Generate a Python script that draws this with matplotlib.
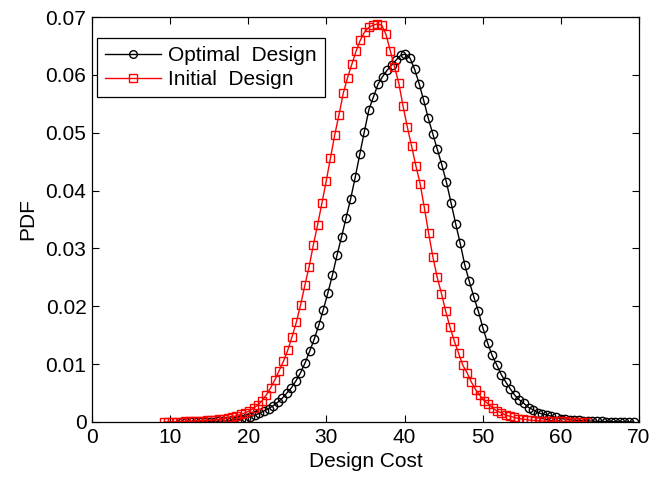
import numpy as np
import matplotlib
matplotlib.use("Agg")
import matplotlib.pyplot as plt

plt.rcParams['font.family'] = ['Liberation Sans', 'DejaVu Sans']

# cost grid of each curve (100 evaluation points, first/last)
x_opt = np.linspace(11.5, 69.3, 100)
x_init = np.linspace(9.2, 63.3, 100)

# PDF values, one per marker
pdf_opt = [
    0.0, 0.00001, 0.00002, 0.00003, 0.00004, 0.00005, 0.00006, 0.00008, 0.0001, 0.00015,
    0.0002, 0.0003, 0.0004, 0.0005, 0.0007, 0.0009, 0.0012, 0.0015, 0.0019, 0.0023,
    0.0028, 0.0034, 0.0041, 0.0050, 0.0059, 0.0071, 0.0085, 0.0102, 0.0122, 0.0143,
    0.0167, 0.0194, 0.0223, 0.0254, 0.0288, 0.0320, 0.0353, 0.0386, 0.0423, 0.0463,
    0.0502, 0.0540, 0.0562, 0.0584, 0.0597, 0.0608, 0.0617, 0.0626, 0.0634, 0.0636,
    0.0629, 0.0610, 0.0585, 0.0556, 0.0525, 0.0498, 0.0471, 0.0444, 0.0414, 0.0379,
    0.0343, 0.0309, 0.0272, 0.0243, 0.0216, 0.0191, 0.0162, 0.0137, 0.0115, 0.0099,
    0.0082, 0.0069, 0.0057, 0.0046, 0.0038, 0.0032, 0.0025, 0.0021, 0.0016, 0.0014,
    0.0012, 0.0010, 0.0008, 0.0006, 0.0005, 0.0004, 0.0003, 0.00027, 0.00022, 0.00018,
    0.00015, 0.00012, 0.0001, 0.00008, 0.00007, 0.00005, 0.00004, 0.00003, 0.00002, 0.00002,
]
pdf_init = [
    0.0, 0.00002, 0.00003, 0.00005, 0.00007, 0.0001, 0.00012, 0.00015, 0.00018, 0.00021,
    0.00027, 0.00032, 0.00038, 0.00046, 0.00057, 0.00072, 0.00088, 0.0011, 0.0013, 0.0016,
    0.0019, 0.0024, 0.0029, 0.0037, 0.0047, 0.0059, 0.0073, 0.0089, 0.0105, 0.0124,
    0.0147, 0.0172, 0.0202, 0.0236, 0.0268, 0.0306, 0.0341, 0.0378, 0.0416, 0.0456,
    0.0496, 0.0531, 0.0568, 0.0595, 0.0618, 0.0641, 0.0660, 0.0674, 0.0682, 0.0686,
    0.0688, 0.0686, 0.0670, 0.0642, 0.0614, 0.0586, 0.0546, 0.0510, 0.0477, 0.0443,
    0.0412, 0.0370, 0.0326, 0.0285, 0.0250, 0.0222, 0.0191, 0.0164, 0.0140, 0.0119,
    0.0098, 0.0085, 0.0069, 0.0056, 0.0046, 0.0037, 0.0031, 0.0024, 0.0019, 0.0016,
    0.0012, 0.0010, 0.0008, 0.0006, 0.0005, 0.0004, 0.0003, 0.00025, 0.0002, 0.00016,
    0.00014, 0.00012, 0.00011, 0.0001, 0.00009, 0.00008, 0.00006, 0.00005, 0.00004, 0.00003,
]

xticks = [0, 10, 20, 30, 40, 50, 60, 70]
yticks = [0, 0.01, 0.02, 0.03, 0.04, 0.05, 0.06, 0.07]
ytick_labels = ['0', '0.01', '0.02', '0.03', '0.04', '0.05', '0.06', '0.07']

fig = plt.figure(figsize=(6.51, 4.83), dpi=100)
ax = fig.add_axes([0.1413, 0.1263, 0.8403, 0.8385])

ax.plot(x_opt, pdf_opt, '-o', color='black', lw=1.0, ms=6.0, mfc='none', mew=1.0,
        label='Optimal  Design')
ax.plot(x_init, pdf_init, '-s', color='red', lw=1.0, ms=5.4, mfc='none', mew=1.0,
        label='Initial  Design')

ax.set_xlim(0, 70)
ax.set_ylim(0, 0.07)
ax.set_xticks(xticks)
ax.set_yticks(yticks)
ax.set_yticklabels(ytick_labels)
ax.tick_params(direction='in', length=5, width=0.8, top=True, right=True,
               labelsize=15, pad=4)
for s in ax.spines.values():
    s.set_linewidth(0.9)

ax.set_xlabel('Design Cost', fontsize=15, labelpad=4)
ax.set_ylabel('PDF', fontsize=15, labelpad=6)

leg = ax.legend(loc='upper left', bbox_to_anchor=(0.009, 0.948), borderaxespad=0,
                fontsize=15, fancybox=False, edgecolor='black', framealpha=1,
                handlelength=2.7, handletextpad=0.3, labelspacing=0.22,
                borderpad=0.4)
leg.get_frame().set_linewidth(0.9)
for h in leg.legend_handles:
    h.set_markersize(5.5)

fig.savefig('out.png', dpi=100)
